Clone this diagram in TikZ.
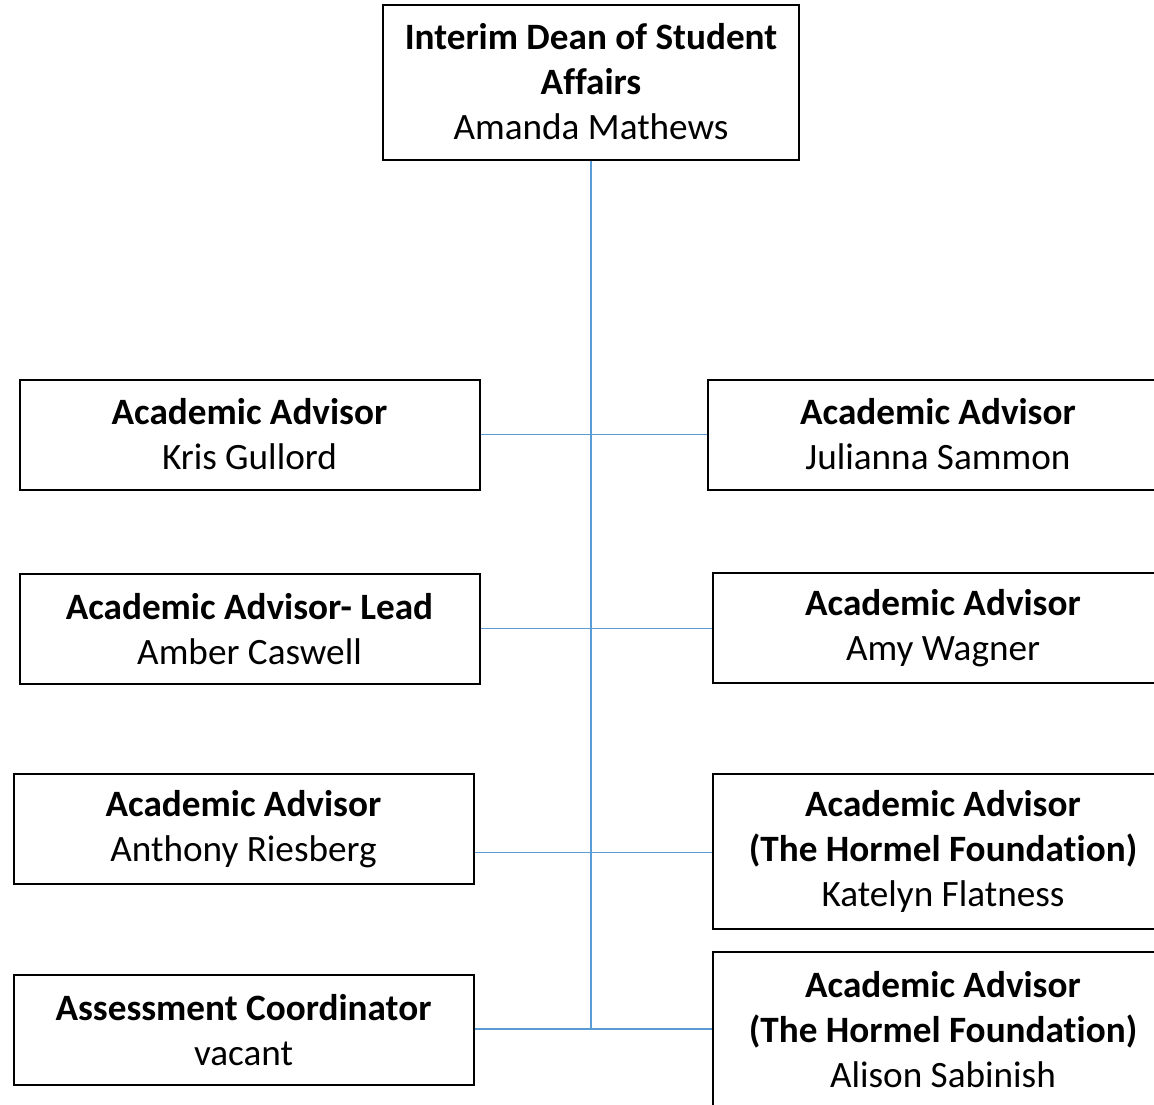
\documentclass[tikz,border=0pt]{standalone}
\usepackage{fontspec}
\setmainfont[Ligatures=NoCommon]{Carlito}
\begin{document}
\begin{tikzpicture}[x=0.75pt,y=-0.75pt,
  box/.style={draw=black,line width=1.5pt,fill=white,align=center,inner sep=0pt,
    minimum width=345pt,font=\fontsize{27.9}{33.75}\selectfont},
  box2/.style={box,minimum height=82.5pt},
  box3/.style={box,minimum height=116.25pt},
  link/.style={draw={rgb,255:red,91;green,155;blue,213},line width=1.1pt}]
\useasboundingbox (0,0) rectangle (1154,1104);
\clip (0,0) rectangle (1154,1104);
\node[box3,minimum width=312pt] (dean) at (591,82) {\textbf{Interim Dean of Student}\\\textbf{Affairs}\\Amanda Mathews};
\node[box2] (l1) at (249.5,434.5) {\textbf{Academic Advisor}\\Kris Gullord};
\node[box2] (r1) at (938,434.5) {\textbf{Academic Advisor}\\Julianna Sammon};
\node[box2] (l2) at (249.5,629) {\textbf{Academic Advisor- Lead}\\Amber Caswell};
\node[box2] (r2) at (943,628) {\textbf{Academic Advisor}\\Amy Wagner};
\node[box2] (l3) at (243.5,829) {\textbf{Academic Advisor}\\Anthony Riesberg};
\node[box3] (r3) at (943,851.5) {\textbf{Academic Advisor}\\\textbf{(The Hormel Foundation)}\\Katelyn Flatness};
\node[box2] (l4) at (243.5,1030) {\textbf{Assessment Coordinator}\\vacant};
\node[box3] (r4) at (943,1029.5) {\textbf{Academic Advisor}\\\textbf{(The Hormel Foundation)}\\Alison Sabinish};
\coordinate (bend) at (590,1029);
\coordinate (h3) at (590,852.5);
\coordinate (h2) at (590,628.5);
\draw[link] (dean.south) -- (dean.south |- bend);
\draw[link] (l1.east) -- (r1.west);
\draw[link] (l2.east |- h2) -- (h2 -| r2.west);
\draw[link] (l3.east |- h3) -- (h3 -| r3.west);
\draw[link] (l4.east |- bend) -- (bend -| r4.west);
\end{tikzpicture}
\end{document}
